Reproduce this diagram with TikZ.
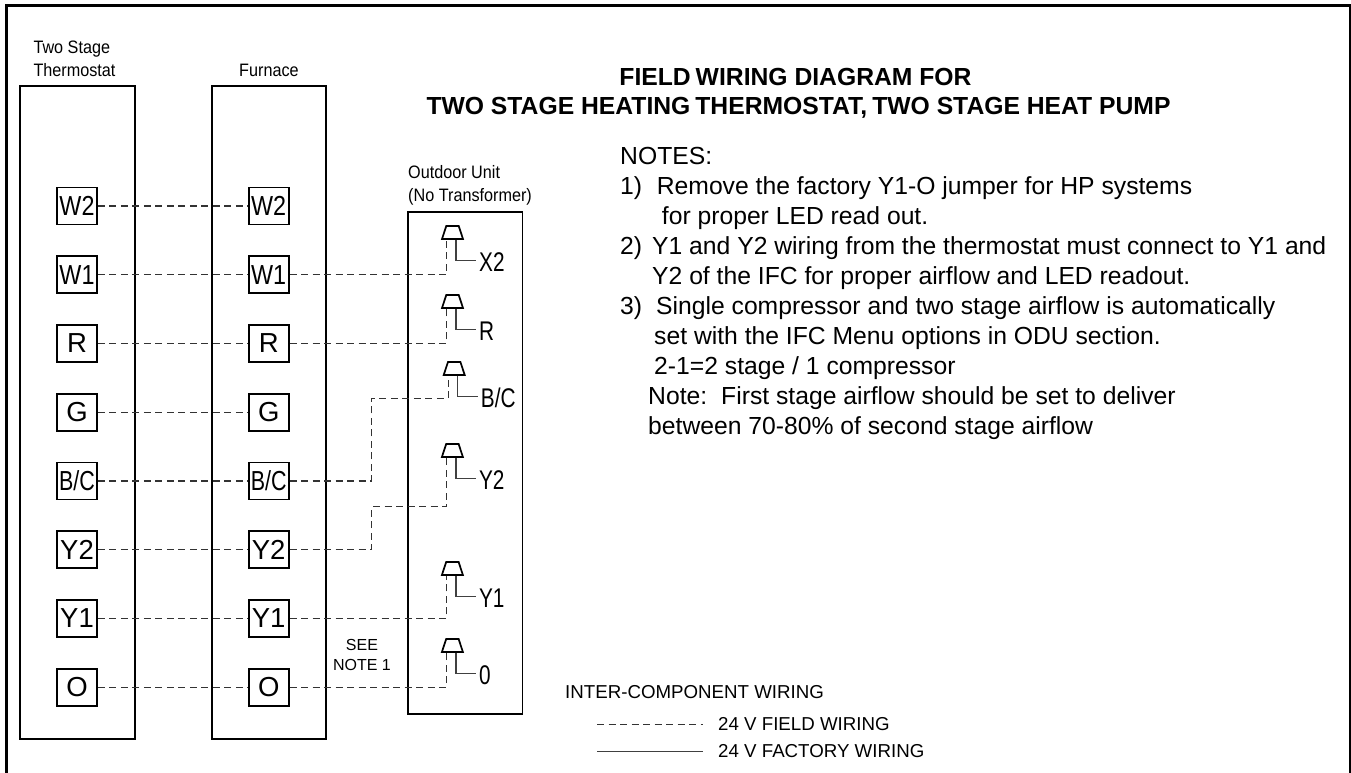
\documentclass[tikz,border=0pt]{standalone}
\usepackage{fontspec}
\setmainfont{Liberation Sans}
\newfontface\condfont[FakeStretch=0.9]{Liberation Sans}
\newfontface\plugfont[FakeStretch=0.77]{Liberation Sans}
\usetikzlibrary{shapes.geometric}
\newcommand{\tsp}{\hspace{.2em}}

\tikzset{
  unit/.style={draw,line width=1.9pt,inner sep=0pt},
  term/.style={draw,line width=1.7pt,fill=white,inner sep=0pt,minimum width=40pt,minimum height=37pt,
               font=\fontsize{27.5}{30}\selectfont},
  wire/.style={draw=black!80,line width=1.1pt,dash pattern=on 7pt off 4.5pt},
  stub/.style={draw=black!75,line width=1.2pt},
  plug/.style={draw,line width=1.7pt,trapezium,trapezium stretches,trapezium left angle=71,trapezium right angle=71,
               inner sep=0pt,text width=1pt,text height=1pt,text depth=0pt,minimum width=21pt,minimum height=13pt},
  pluglabel/.style={anchor=west,inner xsep=3pt,inner ysep=0pt,text height=21pt,text depth=0pt,
               font=\plugfont\fontsize{27}{30}\selectfont},
  caption/.style={anchor=base west,inner sep=0pt,font=\condfont\fontsize{18}{20}\selectfont},
  heading/.style={anchor=base,inner sep=0pt,font=\bfseries\fontsize{24.7}{29}\selectfont},
  legend/.style={anchor=base west,inner sep=0pt,font=\fontsize{18.7}{22}\selectfont},
}

\begin{document}
\begin{tikzpicture}[x=1pt,y=1pt,node distance=68.75pt]
  \useasboundingbox (0,0) rectangle (1351,-773);

  \draw[line width=3pt] (6.5,-773) |- (1350.3,-5.7) -- (1350.3,-773);

  \node[unit,minimum width=115pt,minimum height=653pt] (thermostat) at (77.5,-412.5) {};
  \node[unit,minimum width=114pt,minimum height=653pt] (furnace)    at (269,-412.5)  {};
  \node[unit,minimum width=114.5pt,minimum height=502pt] (outdoor)  at (465.2,-463)  {};

  \node[caption] (capT1) at (33.3,-54)   {Two Stage};
  \node[caption] (capT2) at (33.3,-76.7) {Thermostat};
  \node[caption] (capF)  at (239,-76.7)  {Furnace};
  \node[caption] (capO1) at (408,-178)   {Outdoor Unit};
  \node[caption] (capO2) at (408,-201)   {(No Transformer)};

  % thermostat terminals
  \node[term] (tW2) at (77,-206)   {\scalebox{.85}[1]{W2}};
  \node[term] (tW1) [below of=tW2] {\scalebox{.85}[1]{W1}};
  \node[term] (tR)  [below of=tW1] {R};
  \node[term] (tG)  [below of=tR]  {G};
  \node[term] (tBC) [below of=tG]  {\scalebox{.78}[1]{B/C}};
  \node[term] (tY2) [below of=tBC] {Y2};
  \node[term] (tY1) [below of=tY2] {Y1};
  \node[term] (tO)  [below of=tY1] {O};

  % furnace terminals
  \node[term] (fW2) at (268.7,-206) {\scalebox{.85}[1]{W2}};
  \node[term] (fW1) [below of=fW2]  {\scalebox{.85}[1]{W1}};
  \node[term] (fR)  [below of=fW1]  {R};
  \node[term] (fG)  [below of=fR]   {G};
  \node[term] (fBC) [below of=fG]   {\scalebox{.78}[1]{B/C}};
  \node[term] (fY2) [below of=fBC]  {Y2};
  \node[term] (fY1) [below of=fY2]  {Y1};
  \node[term] (fO)  [below of=fY1]  {O};

  % outdoor unit plugs and their labels
  \node[plug] (pX2) at (452.5,-232.5) {};
  \node[plug] (pR)  at (452.5,-301.5) {};
  \node[plug] (pBC) at (454.2,-368.5) {};
  \node[plug] (pY2) at (452.4,-450.5) {};
  \node[plug] (pY1) at (452.4,-568.5) {};
  \node[plug] (pO)  at (452.4,-645.5) {};

  \node[pluglabel] (lX2) at ([shift={(23.5pt,-21pt)}]pX2.south) {X2};
  \node[pluglabel] (lR)  at ([shift={(23.5pt,-21pt)}]pR.south)  {R};
  \node[pluglabel] (lBC) at ([shift={(23.5pt,-21pt)}]pBC.south) {B/C};
  \node[pluglabel] (lY2) at ([shift={(23.5pt,-21pt)}]pY2.south) {Y2};
  \node[pluglabel] (lY1) at ([shift={(23.5pt,-21pt)}]pY1.south) {Y1};
  \node[pluglabel] (lO)  at ([shift={(23.5pt,-21pt)}]pO.south)  {0};

  \path[wire] (tW2) edge (fW2)
              (tW1) edge (fW1)
              (tR)  edge (fR)
              (tG)  edge (fG)
              (tBC) edge (fBC)
              (tY2) edge (fY2)
              (tY1) edge (fY1)
              (tO)  edge (fO);

  \coordinate (jBC) at (371.3,-398.3);
  \coordinate (jY2) at (371.3,-506.7);

  \draw[wire] (fW1) -| ([xshift=-6pt]pX2.south);
  \draw[wire] (fR)  -| ([xshift=-6pt]pR.south);
  \draw[wire] (fBC) -| (jBC) -| ([xshift=-6pt]pBC.south);
  \draw[wire] (fY2) -| (jY2) -| ([xshift=-6pt]pY2.south);
  \draw[wire] (fY1) -| ([xshift=-6pt]pY1.south);
  \draw[wire] (fO)  -| ([xshift=-6pt]pO.south);

  \draw[stub] ([xshift=3.5pt]pX2.south) |- (lX2);
  \draw[stub] ([xshift=3.5pt]pR.south)  |- (lR);
  \draw[stub] ([xshift=3.5pt]pBC.south) |- (lBC);
  \draw[stub] ([xshift=3.5pt]pY2.south) |- (lY2);
  \draw[stub] ([xshift=3.5pt]pY1.south) |- (lY1);
  \draw[stub] ([xshift=3.5pt]pO.south)  |- (lO);

  \node[anchor=base,inner sep=0pt,font=\fontsize{16}{20}\selectfont] (see1) at (362,-650) {SEE};
  \node[anchor=base,inner sep=0pt,font=\fontsize{16}{20}\selectfont] (see2) at (362,-670) {NOTE 1};

  \node[heading] (title1) at (795.5,-86) {FIELD\tsp WIRING DIAGRAM FOR};
  \node[heading] (title2) at (798.5,-115) {TWO STAGE HEATING\tsp THERMOSTAT,\tsp TWO STAGE HEAT PUMP};

  \node[anchor=north west,inner sep=0pt,align=left,font=\fontsize{24.7}{30}\selectfont] (notes) at (620,-147) {%
    NOTES:\\
    1)\hspace{14.7pt}Remove the factory Y1-O jumper for HP systems\\
    \hspace*{41.7pt}for proper LED read out.\\
    2)\hspace{10pt}Y1 and Y2 wiring from the thermostat must connect to Y1 and\\
    \hspace*{32pt}Y2 of the IFC for proper airflow and LED readout.\\
    3)\hspace{14pt}Single compressor and two stage airflow is automatically\\
    \hspace*{34pt}set with the IFC Menu options in ODU section.\\
    \hspace*{34pt}2-1=2 stage / 1 compressor\\
    \hspace*{28pt}Note:\hspace{14pt}First stage airflow should be set to deliver\\
    \hspace*{28pt}between 70-80\% of second stage airflow};

  \node[legend] (legTitle) at (565,-698) {INTER-COMPONENT WIRING};
  \node[legend] (legField) at (718,-730.7) {24 V FIELD WIRING};
  \node[legend] (legFact)  at (718,-757)   {24 V FACTORY WIRING};
  \coordinate (fieldL) at (597,-724.7);
  \coordinate (fieldR) at (703,-724.7);
  \coordinate (factL)  at (597,-751.7);
  \coordinate (factR)  at (703,-751.7);
  \draw[wire] (fieldL) -- (fieldR);
  \draw[stub] (factL) -- (factR);
\end{tikzpicture}
\end{document}
